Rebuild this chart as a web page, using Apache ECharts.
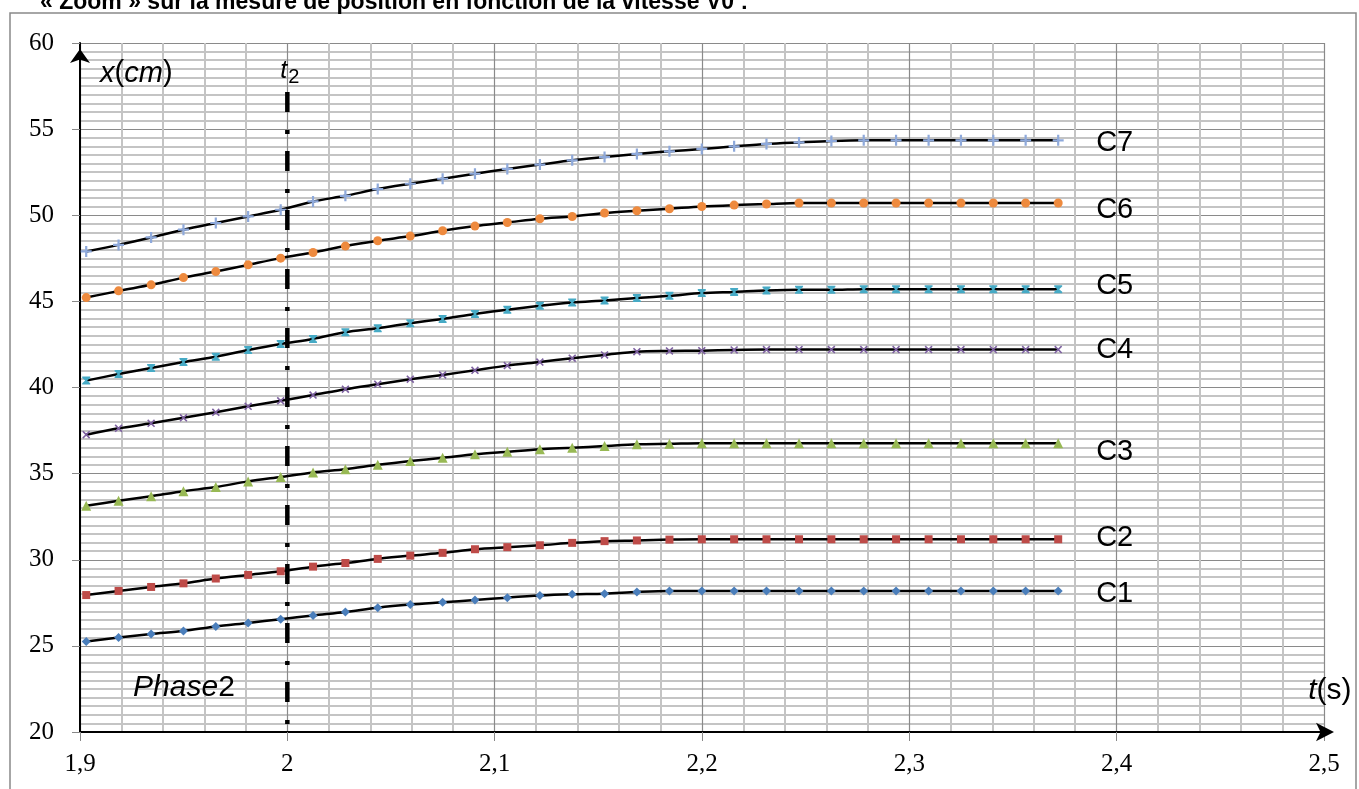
<!DOCTYPE html>
<html>
<head>
<meta charset="utf-8">
<script src="https://cdn.jsdelivr.net/npm/echarts@6/dist/echarts.min.js"></script>
<style>
html,body{margin:0;padding:0;background:#fff;}
#c{width:1359px;height:789px;}
</style>
</head>
<body>
<div id="c"></div>
<script>
// ---- data ----
const times = [1.9030, 1.9186, 1.9343, 1.9499, 1.9655, 1.9811, 1.9968, 2.0124, 2.0280, 2.0436,
  2.0593, 2.0749, 2.0905, 2.1061, 2.1218, 2.1374, 2.1530, 2.1686, 2.1843, 2.1999,
  2.2155, 2.2311, 2.2468, 2.2624, 2.2780, 2.2936, 2.3093, 2.3249, 2.3405, 2.3561, 2.3718];

const C1 = [25.26, 25.48, 25.69, 25.86, 26.13, 26.33, 26.55, 26.77, 26.97, 27.22,
  27.40, 27.53, 27.66, 27.80, 27.92, 27.99, 28.03, 28.13, 28.19, 28.19,
  28.19, 28.19, 28.19, 28.19, 28.19, 28.19, 28.19, 28.19, 28.19, 28.19, 28.19];
const C2 = [27.95, 28.19, 28.42, 28.63, 28.91, 29.12, 29.33, 29.60, 29.81, 30.05,
  30.24, 30.40, 30.61, 30.73, 30.84, 30.98, 31.08, 31.12, 31.17, 31.19,
  31.19, 31.19, 31.19, 31.19, 31.19, 31.19, 31.19, 31.19, 31.19, 31.19, 31.19];
const C3 = [33.13, 33.42, 33.69, 33.98, 34.22, 34.55, 34.81, 35.07, 35.26, 35.51,
  35.73, 35.92, 36.12, 36.27, 36.42, 36.50, 36.60, 36.70, 36.73, 36.77,
  36.77, 36.77, 36.77, 36.77, 36.77, 36.77, 36.77, 36.77, 36.77, 36.77, 36.77];
const C4 = [37.26, 37.63, 37.92, 38.24, 38.56, 38.91, 39.23, 39.56, 39.90, 40.19,
  40.48, 40.73, 41.00, 41.27, 41.48, 41.70, 41.89, 42.08, 42.12, 42.14,
  42.18, 42.20, 42.20, 42.20, 42.20, 42.20, 42.20, 42.20, 42.20, 42.20, 42.20];
const C5 = [40.40, 40.78, 41.13, 41.48, 41.79, 42.18, 42.53, 42.82, 43.21, 43.44,
  43.73, 43.98, 44.27, 44.51, 44.74, 44.93, 45.05, 45.19, 45.32, 45.48,
  45.55, 45.63, 45.67, 45.67, 45.71, 45.71, 45.71, 45.71, 45.71, 45.71, 45.71];
const C6 = [45.22, 45.61, 45.96, 46.38, 46.73, 47.12, 47.51, 47.84, 48.21, 48.52,
  48.79, 49.10, 49.37, 49.58, 49.80, 49.93, 50.13, 50.26, 50.38, 50.51,
  50.59, 50.65, 50.71, 50.71, 50.71, 50.71, 50.71, 50.71, 50.71, 50.71, 50.71];
const C7 = [47.90, 48.28, 48.71, 49.16, 49.55, 49.93, 50.32, 50.80, 51.13, 51.52,
  51.83, 52.12, 52.41, 52.69, 52.94, 53.19, 53.38, 53.56, 53.71, 53.85,
  54.00, 54.14, 54.23, 54.31, 54.35, 54.35, 54.35, 54.35, 54.35, 54.35, 54.35];

const seriesNames = ['C1', 'C2', 'C3', 'C4', 'C5', 'C6', 'C7'];
const seriesValues = [C1, C2, C3, C4, C5, C6, C7];
const xTickLabels = ['1,9', '2', '2,1', '2,2', '2,3', '2,4', '2,5'];
const yTickLabels = ['20', '25', '30', '35', '40', '45', '50', '55', '60'];
const t2Value = 2.0;
const t2Range = [57.15, 20];

// ---- styles ----
const markerColors = ['#4A7EBB', '#BE4B48', '#98B954', '#7D60A0', '#46AAC5', '#EE8A3E', '#8EA9DB'];
const X_PATH = 'path://M1.4,0 L5,3.6 L8.6,0 L10,1.4 L6.4,5 L10,8.6 L8.6,10 L5,6.4 L1.4,10 L0,8.6 L3.6,5 L0,1.4 Z';
const STAR_PATH = 'path://M0,0 L10,0 L10,1.6 L6.2,5 L10,8.4 L10,10 L0,10 L0,8.4 L3.8,5 L0,1.6 Z';
const PLUS_PATH = 'path://M4,0 L6,0 L6,4 L10,4 L10,6 L6,6 L6,10 L4,10 L4,6 L0,6 L0,4 L4,4 Z';
const markerShapes = ['diamond', 'rect', 'triangle', X_PATH, STAR_PATH, 'circle', PLUS_PATH];
const markerSizes = [9, 8, 10, 8, 8, 9, 11];

const chart = echarts.init(document.getElementById('c'), null, {renderer: 'canvas'});

function xLabel(v) {
  const idx = Math.round((v - 1.9) * 10);
  return xTickLabels[idx] !== undefined ? xTickLabels[idx] : '';
}
function yLabel(v) {
  const idx = Math.round((v - 20) / 5);
  return yTickLabels[idx] !== undefined ? yTickLabels[idx] : '';
}

const series = seriesValues.map((vals, i) => ({
  name: seriesNames[i],
  type: 'line',
  data: times.map((t, k) => [t, vals[k]]),
  smooth: 0.3,
  symbol: markerShapes[i],
  symbolSize: markerSizes[i],
  showAllSymbol: true,
  lineStyle: {color: '#000', width: 2.5},
  itemStyle: {color: markerColors[i], borderWidth: 0},
  z: 3,
  animation: false
}));

series.push({
  name: 't2',
  type: 'line',
  data: [[t2Value, t2Range[0]], [t2Value, t2Range[1]]],
  symbol: 'none',
  lineStyle: {color: '#000', width: 4.5, type: [20, 18, 4, 17], cap: 'butt'},
  z: 5,
  animation: false,
  silent: true
});

const labelFont = 'Liberation Serif';
const textFont = 'Liberation Sans';

chart.setOption({
  backgroundColor: '#fff',
  animation: false,
  grid: {left: 80, right: 35, top: 43, bottom: 57, containLabel: false},
  xAxis: {
    type: 'value', min: 1.9, max: 2.5, interval: 0.1,
    axisLine: {show: true, onZero: false, lineStyle: {color: '#000', width: 2},
      symbol: ['none', 'arrow'], symbolSize: [14, 18], symbolOffset: [0, 10]},
    axisTick: {show: true, inside: false, length: 9, lineStyle: {color: '#888', width: 1}},
    axisLabel: {formatter: xLabel, color: '#000', fontFamily: labelFont, fontSize: 25, margin: 20},
    splitLine: {show: true, lineStyle: {color: '#8a8a8a', width: 1.2}},
    minorTick: {show: false, splitNumber: 5},
    minorSplitLine: {show: true, lineStyle: {color: '#c4c4c4', width: 2}}
  },
  yAxis: {
    type: 'value', min: 20, max: 60, interval: 5,
    axisLine: {show: true, onZero: false, lineStyle: {color: '#000', width: 2},
      symbol: ['none', 'arrow'], symbolSize: [15, 14], symbolOffset: [0, -6]},
    axisTick: {show: true, inside: false, length: 8, lineStyle: {color: '#888', width: 1}},
    axisLabel: {formatter: yLabel, color: '#000', fontFamily: labelFont, fontSize: 25, margin: 26},
    splitLine: {show: true, lineStyle: {color: '#8a8a8a', width: 1.2}},
    minorTick: {show: false, splitNumber: 10},
    minorSplitLine: {show: true, lineStyle: {color: '#c4c4c4', width: 2}}
  },
  series: series
});

// ---- annotations (placed in data coordinates) ----
const seriesLabelAnchors = [27.99, 31.25, 36.25, 42.18, 45.90, 50.32, 54.21];
const seriesLabelT = 2.3901;
const px = (t, v) => chart.convertToPixel({gridIndex: 0}, [t, v]);

const graphics = [];
// outer frame
graphics.push({type: 'rect', shape: {x: 10, y: 13, width: 1346, height: 800},
  style: {fill: 'none', stroke: '#898989', lineWidth: 1.5}, z: 0, silent: true});
// title (cut at top)
graphics.push({type: 'text', x: 40, y: 14,
  style: {text: '« Zoom » sur la mesure de position en fonction de la vitesse V0 :',
    font: 'bold 23px "Liberation Sans"', fill: '#000', verticalAlign: 'bottom', align: 'left'}, z: 10});

seriesNames.forEach((n, i) => {
  const p = px(seriesLabelT, seriesLabelAnchors[i]);
  graphics.push({type: 'text', x: p[0], y: p[1],
    style: {text: n, font: '29px "Liberation Sans"', fill: '#000', align: 'left', verticalAlign: 'middle'}, z: 10});
});

let p = px(1.9097, 58.23);
graphics.push({type: 'text', x: p[0], y: p[1],
  style: {text: '{i|x}{n|(}{i|cm}{n|)}', align: 'left', verticalAlign: 'middle',
    rich: {i: {fontFamily: textFont, fontStyle: 'italic', fontSize: 29, color: '#000'},
           n: {fontFamily: textFont, fontSize: 29, color: '#000'}}}, z: 10});

p = px(1.9966, 58.35);
graphics.push({type: 'text', x: p[0], y: p[1],
  style: {text: 't', font: 'italic 25px "Liberation Sans"', fill: '#000', align: 'left', verticalAlign: 'middle'}, z: 10});
p = px(2.0005, 58.0);
graphics.push({type: 'text', x: p[0], y: p[1],
  style: {text: '2', font: '20px "Liberation Sans"', fill: '#000', align: 'left', verticalAlign: 'middle'}, z: 10});

p = px(1.9256, 22.59);
graphics.push({type: 'text', x: p[0], y: p[1],
  style: {text: '{i|Phase}{n|2}', align: 'left', verticalAlign: 'middle',
    rich: {i: {fontFamily: textFont, fontStyle: 'italic', fontSize: 30, color: '#000'},
           n: {fontFamily: textFont, fontSize: 30, color: '#000'}}}, z: 10});

p = px(2.4924, 22.41);
graphics.push({type: 'text', x: p[0], y: p[1],
  style: {text: '{i|t}{n|(s)}', align: 'left', verticalAlign: 'middle',
    rich: {i: {fontFamily: textFont, fontStyle: 'italic', fontSize: 30, color: '#000'},
           n: {fontFamily: textFont, fontSize: 30, color: '#000'}}}, z: 10});

chart.setOption({graphic: graphics});
</script>
</body>
</html>
